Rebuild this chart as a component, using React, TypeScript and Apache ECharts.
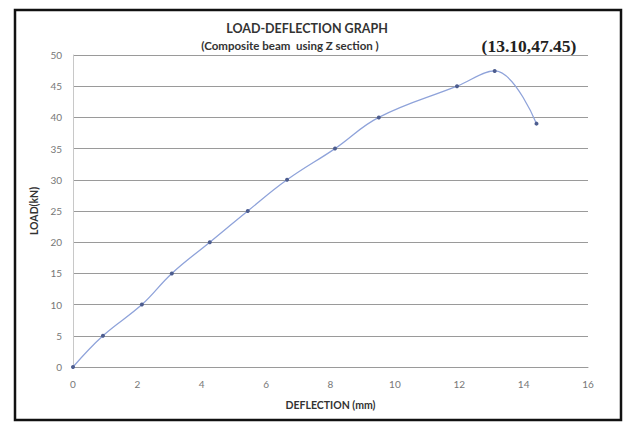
import React, { useEffect, useRef } from "react";
import * as echarts from "echarts";

const deflection = [0, 0.93, 2.14, 3.07, 4.25, 5.43, 6.65, 8.14, 9.5, 11.93, 13.1, 14.4];
const load = [0, 5, 10, 15, 20, 25, 30, 35, 40, 45, 47.45, 39];
const titleLines = ["LOAD-DEFLECTION GRAPH", "(Composite beam  using Z section )"];
const peakLabel = "(13.10,47.45)";
const xName = "DEFLECTION (mm)";
const yName = "LOAD(kN)";

export default function App() {
  const ref = useRef<HTMLDivElement>(null);
  useEffect(() => {
    const chart = echarts.init(ref.current!, null, { renderer: "svg" });
    const points = deflection.map((x, i) => [x, load[i]]);
    chart.setOption({
      animation: false,
      backgroundColor: "#fff",
      grid: { left: 73, right: 37, top: 55, bottom: 55 },
      xAxis: {
        type: "value",
        min: 0,
        max: 16,
        interval: 2,
        name: xName,
        nameLocation: "middle",
        nameGap: 32,
        nameTextStyle: { fontFamily: "Lato", fontWeight: "bold", fontSize: 10.5, color: "#333" },
        axisLine: { show: true, lineStyle: { color: "#9a9a9a" } },
        axisTick: { show: false },
        axisLabel: { fontFamily: "Lato", fontSize: 10, color: "#777", margin: 12 },
        splitLine: { show: false },
      },
      yAxis: {
        type: "value",
        min: 0,
        max: 50,
        interval: 5,
        name: yName,
        nameLocation: "middle",
        nameGap: 28,
        nameTextStyle: { fontFamily: "Lato", fontWeight: "bold", fontSize: 10.5, color: "#333" },
        axisLine: { show: true, lineStyle: { color: "#c8c8c8" } },
        axisTick: { show: false },
        axisLabel: { fontFamily: "Lato", fontSize: 10, color: "#777", margin: 11 },
        splitLine: { show: true, lineStyle: { color: "#9a9a9a", width: 1 } },
      },
      graphic: [
        {
          type: "rect",
          shape: { x: 15, y: 10, width: 606, height: 410 },
          style: { fill: "none", stroke: "#111", lineWidth: 2.5 },
          z: 100,
        },
        {
          type: "text",
          x: 307,
          y: 28,
          style: {
            text: titleLines[0],
            fontFamily: "Lato",
            fontWeight: "bold",
            fontSize: 12.5,
            fill: "#333",
            align: "center",
            verticalAlign: "middle",
          },
        },
        {
          type: "text",
          x: 290,
          y: 45,
          style: {
            text: titleLines[1],
            fontFamily: "Lato",
            fontWeight: "bold",
            fontSize: 11.5,
            fill: "#333",
            align: "center",
            verticalAlign: "middle",
          },
        },
        {
          type: "text",
          x: 529,
          y: 46,
          style: {
            text: peakLabel,
            fontFamily: "Liberation Serif",
            fontSize: 17.5,
            fontWeight: "bold",
            fill: "#222",
            align: "center",
            verticalAlign: "middle",
          },
        },
      ],
      series: [
        {
          type: "line",
          data: points,
          smooth: 0.4,
          symbol: "circle",
          symbolSize: 4,
          lineStyle: { color: "#8fa3da", width: 1.3 },
          itemStyle: { color: "#4d5d8f" },
        },
      ],
    });
    return () => chart.dispose();
  }, []);
  return (
    <div
      ref={ref}
      style={{ position: "fixed", left: 0, top: 0, width: 625, height: 422 }}
    />
  );
}
